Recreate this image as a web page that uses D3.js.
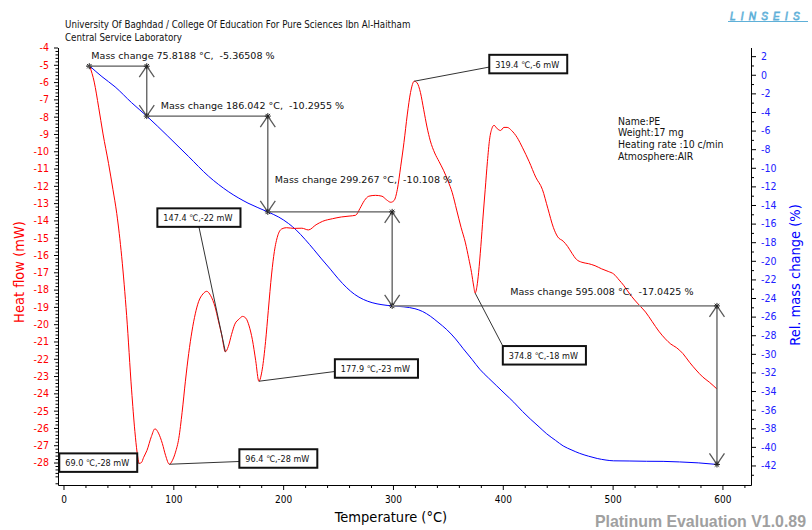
<!DOCTYPE html>
<html>
<head>
<meta charset="utf-8">
<script src="https://cdn.jsdelivr.net/npm/d3@7"></script>
<style>
  body { margin: 0; background: #fff; }
  svg { display: block; font-family: "DejaVu Sans Condensed", "DejaVu Sans", sans-serif; }
</style>
</head>
<body>
<svg id="chart" width="812" height="530"></svg>
<script>
// ---- Heat flow (DSC) curve: temperature in °C, signal in mW
const heatT = [24, 28, 32, 36, 41, 45, 48.5, 53, 57.5, 62, 65, 67, 69, 71, 73, 76, 80, 83.3, 86.5, 90, 93, 96.4,
  99, 102, 105, 108, 111, 114, 117, 120, 123, 127, 130.4, 134, 138, 141, 144, 147.4, 150, 153, 156, 160, 163, 166,
  169, 172, 175, 177.9, 181, 184, 186.5, 189.5, 192, 195, 198.5, 203, 210, 217, 223, 230, 236, 245, 253, 260, 266,
  270, 274, 278, 284, 290, 294, 298, 301, 304, 307, 310, 313, 316, 319.4, 322, 325, 328, 331, 334, 338, 342, 346,
  350, 354, 358, 362, 366, 369, 371.5, 373.5, 374.8, 376.5, 378, 380, 382, 384, 386, 388, 390, 392, 395, 398, 401,
  404, 408, 413, 418, 424, 430, 436, 441, 446, 450, 455, 459, 463, 467, 472, 478, 484, 490, 496, 501, 506, 510,
  515, 520, 525, 530, 536, 542, 548, 553, 558, 564, 570, 576, 582, 588, 595];
const heatMW = [-5.1, -6.0, -7.45, -9.0, -10.7, -12.2, -13.6, -16.1, -19.5, -23.8, -26.2, -27.4, -28.05, -28.0,
  -27.7, -27.3, -26.5, -26.05, -26.3, -26.9, -27.6, -28.1, -27.9, -27.4, -26.6, -25.1, -23.3, -21.7, -20.4, -19.4,
  -18.7, -18.25, -18.1, -18.35, -19.0, -19.8, -20.6, -21.6, -21.3, -20.6, -20.0, -19.7, -19.55, -19.65, -20.1,
  -20.9, -22.1, -23.3, -22.6, -21.0, -19.2, -17.1, -15.8, -14.9, -14.5, -14.42, -14.46, -14.45, -14.55, -14.25,
  -14.05, -13.9, -13.8, -13.75, -13.7, -13.3, -12.85, -12.6, -12.55, -12.6, -12.8, -12.95, -12.85, -12.2, -10.9,
  -9.5, -7.9, -6.6, -5.95, -6.05, -6.6, -7.6, -8.6, -9.4, -10.1, -10.6, -11.1, -11.7, -12.4, -13.4, -14.4, -15.3,
  -16.2, -17.0, -17.8, -18.2, -17.8, -17.0, -15.5, -13.8, -12.2, -10.6, -9.3, -8.7, -8.5, -8.7, -8.8, -8.62, -8.62,
  -8.8, -9.2, -9.8, -10.6, -11.5, -12.2, -13.3, -14.4, -14.95, -15.2, -15.5, -15.9, -16.25, -16.42, -16.5, -16.62,
  -16.8, -16.95, -17.1, -17.45, -17.75, -18.2, -18.6, -18.95, -19.3, -19.85, -20.4, -20.85, -21.15, -21.35, -21.7,
  -22.2, -22.65, -23.05, -23.35, -23.75];

// ---- Relative mass change (TG) curve: temperature in °C, mass in %
const massT = [24, 35, 47, 62, 75.8, 95, 114, 132, 150, 168, 186, 196, 205, 212, 220, 228, 235, 243, 250, 258, 265,
  273, 281, 290, 299.3, 310, 320, 327, 334, 341, 349, 357, 364, 372, 379, 387, 394.5, 402, 410, 418, 425, 433, 440,
  448, 455, 463, 470, 478, 486, 494, 501, 515, 531, 546, 561, 578, 595];
const massPct = [0.92, -0.2, -1.3, -3.0, -4.44, -6.6, -8.8, -10.9, -12.55, -13.8, -14.74, -15.3, -16.0, -16.7,
  -17.7, -18.8, -19.8, -20.9, -21.9, -22.9, -23.6, -24.15, -24.5, -24.72, -24.85, -24.95, -25.15, -25.45, -25.95,
  -26.6, -27.4, -28.4, -29.45, -30.6, -31.65, -32.6, -33.45, -34.3, -35.2, -36.2, -37.0, -37.85, -38.6, -39.3,
  -39.9, -40.35, -40.7, -41.0, -41.25, -41.42, -41.5, -41.52, -41.55, -41.56, -41.62, -41.72, -41.89];

// ---- Mass-change steps (evaluation markers)
const stepT = [23.5, 75.8188, 186.042, 299.267, 595.008];
const stepChange = [-5.36508, -10.2955, -10.108, -17.0425];
const massStart = 0.92;

// ---- Peak annotations on the heat flow curve
const peakT = [69.0, 96.4, 147.4, 177.9, 319.4, 374.8];
const peakMW = [-28.05, -28.1, -21.6, -23.3, -5.95, -18.2];

// ---- Tick values
const xTicks = [0, 100, 200, 300, 400, 500, 600];
const heatTicks = [-4, -5, -6, -7, -8, -9, -10, -11, -12, -13, -14, -15, -16, -17, -18, -19, -20, -21, -22, -23,
  -24, -25, -26, -27, -28];
const massTicks = [2, 0, -2, -4, -6, -8, -10, -12, -14, -16, -18, -20, -22, -24, -26, -28, -30, -32, -34, -36,
  -38, -40, -42];

// ---- Texts
const titleLines = ["University Of Baghdad / College Of Education For Pure Sciences Ibn Al-Haitham",
  "Central Service Laboratory"];
const infoLines = ["Name:PE", "Weight:17 mg", "Heating rate :10 c/min", "Atmosphere:AIR"];

// ---- Layout of annotation labels (pixel offsets)
const massLabelOffset = [[2, -7], [14, -7.6], [7, -29], [118, -11]];
// box top-left offset from the peak point, and where the leader meets the box
const peakBoxLayout = [
  { dx: -80, dy: -10, anchor: "right" },
  { dx: 70, dy: -15, anchor: "left" },
  { dx: -68, dy: -143.5, anchor: "bottom" },
  { dx: 76, dy: -22, anchor: "left" },
  { dx: 75, dy: -26.4, anchor: "left" },
  { dx: 27.7, dy: 53, anchor: "topleft" }
];

const svg = d3.select("#chart");

const x = d3.scaleLinear().domain([-5, 626]).range([58, 751]);
const yHeat = d3.scaleLinear().domain([-29.3, -4]).range([485, 47.5]);
const yMass = d3.scaleLinear().domain([-44.1, 2.93]).range([485, 47.5]);

const RED = "#ff0000", BLUE = "#0000ff";
const WIDE = '"DejaVu Sans", sans-serif';
const ARIAL = '"Liberation Sans", Arial, sans-serif';

// ---- Axes
function styleAxis(g, color, size) {
  g.attr("font-family", null);
  g.select(".domain").attr("stroke", "#000").attr("stroke-width", 1);
  g.selectAll(".tick line").attr("stroke", "#000");
  g.selectAll(".tick text").attr("fill", color).attr("font-size", size);
}

// bottom
const xMinor = d3.range(0, 621, 20).filter(v => v % 100 !== 0);
svg.append("g").attr("transform", "translate(0,485)")
  .call(d3.axisBottom(x).tickValues(xMinor).tickSize(3).tickSizeOuter(0).tickFormat(""))
  .call(g => g.select(".domain").remove())
  .selectAll("line").attr("stroke", "#000");
svg.append("g").attr("transform", "translate(0,485)")
  .call(d3.axisBottom(x).tickValues(xTicks).tickSize(5).tickSizeOuter(0).tickPadding(6).tickFormat(d => String(d)))
  .call(g => styleAxis(g, "#000", 10));

// left (heat flow)
const heatMinor = d3.range(-29.2, -4.0, 0.2).map(v => +v.toFixed(1)).filter(v => Math.abs(v - Math.round(v)) > 1e-6);
svg.append("g").attr("transform", "translate(58,0)")
  .call(d3.axisLeft(yHeat).tickValues(heatMinor).tickSize(2.5).tickSizeOuter(0).tickFormat(""))
  .call(g => g.select(".domain").remove())
  .selectAll("line").attr("stroke", "#000");
svg.append("g").attr("transform", "translate(58,0)")
  .call(d3.axisLeft(yHeat).tickValues(heatTicks).tickSize(4).tickSizeOuter(0).tickPadding(5).tickFormat(d => String(d)))
  .call(g => styleAxis(g, RED, 10.5));

// right (mass change)
const massMinor = d3.range(-44, 3, 1).filter(v => v % 2 !== 0);
svg.append("g").attr("transform", "translate(751,0)")
  .call(d3.axisRight(yMass).tickValues(massMinor).tickSize(3).tickSizeOuter(0).tickFormat(""))
  .call(g => g.select(".domain").remove())
  .selectAll("line").attr("stroke", "#000");
svg.append("g").attr("transform", "translate(751,0)")
  .call(d3.axisRight(yMass).tickValues(massTicks).tickSize(5).tickSizeOuter(0).tickPadding(5).tickFormat(d => String(d)))
  .call(g => styleAxis(g, "#2020ff", 10.5));

// axis titles
svg.append("text").attr("transform", "translate(24,272) rotate(-90)")
  .attr("text-anchor", "middle").attr("fill", RED).attr("font-size", 14.5).text("Heat flow (mW)");
svg.append("text").attr("transform", "translate(800,275) rotate(-90)")
  .attr("text-anchor", "middle").attr("fill", BLUE).attr("font-size", 14.5).text("Rel. mass change (%)");
svg.append("text").attr("x", 391).attr("y", 522)
  .attr("text-anchor", "middle").attr("fill", "#000").attr("font-size", 14.5).text("Temperature (°C)");

// ---- Curves
const heatData = heatT.map((t, i) => [t, heatMW[i]]);
const massData = massT.map((t, i) => [t, massPct[i]]);

svg.append("path").datum(massData)
  .attr("fill", "none").attr("stroke", BLUE).attr("stroke-width", 1)
  .attr("d", d3.line().x(d => x(d[0])).y(d => yMass(d[1])).curve(d3.curveMonotoneX));

svg.append("path").datum(heatData)
  .attr("fill", "none").attr("stroke", RED).attr("stroke-width", 1)
  .attr("d", d3.line().x(d => x(d[0])).y(d => yHeat(d[1])).curve(d3.curveMonotoneX));

// ---- Mass-change step markers
const levels = [massStart];
stepChange.forEach(c => levels.push(levels[levels.length - 1] + c));
const GREY = "#5a5a5a";
const mk = svg.append("g").attr("stroke", GREY).attr("stroke-width", 1.3).attr("fill", "none");

function star(px, py) {
  mk.append("path").attr("stroke", "#222").attr("stroke-width", 1)
    .attr("d", `M${px - 3},${py}H${px + 3}M${px},${py - 3}V${py + 3}M${px - 2.2},${py - 2.2}L${px + 2.2},${py + 2.2}M${px - 2.2},${py + 2.2}L${px + 2.2},${py - 2.2}`);
}

star(x(stepT[0]), yMass(levels[0]));
for (let i = 1; i < stepT.length; i++) {
  const x0 = x(stepT[i - 1]) - (i === 1 ? 3 : 0), x1 = x(stepT[i]);
  const yTop = yMass(levels[i - 1]), yBot = yMass(levels[i]);
  mk.append("line").attr("x1", x0).attr("x2", x1).attr("y1", yTop).attr("y2", yTop)
    .attr("stroke", i === 4 ? "#8a8a8a" : GREY).attr("stroke-width", i === 4 ? 1.8 : 1.3);
  mk.append("line").attr("x1", x1).attr("x2", x1).attr("y1", yTop).attr("y2", yBot);
  mk.append("path").attr("d", `M${x1 - 7.5},${yTop + 11}L${x1},${yTop}L${x1 + 7.5},${yTop + 11}`);
  mk.append("path").attr("d", `M${x1 - 7.5},${yBot - 11}L${x1},${yBot}L${x1 + 7.5},${yBot - 11}`);
  star(x1, yTop);
  star(x1, yBot);

  const [dx, dy] = massLabelOffset[i - 1];
  svg.append("text")
    .attr("x", x(stepT[i - 1]) + dx).attr("y", yTop + dy)
    .style("font-family", WIDE)
    .attr("font-size", 9.55).attr("fill", "#111").style("white-space", "pre")
    .text(`Mass change ${stepT[i]} °C,  ${stepChange[i - 1]} %`);
}

// ---- Peak annotation boxes
const ann = svg.append("g");
peakT.forEach((t, i) => {
  const px = x(t), py = yHeat(peakMW[i]);
  const L = peakBoxLayout[i];
  const bx = px + L.dx, by = py + L.dy;
  const g = ann.append("g");
  const txt = g.append("text").attr("x", bx + 6).attr("y", by + 13)
    .attr("font-size", 9).attr("fill", "#111")
    .text(`${t.toFixed(1)} ℃,${Math.round(peakMW[i])} mW`);
  const w = txt.node().getComputedTextLength() + 14, h = 18.5;
  let ax, ay;
  if (L.anchor === "right") { ax = bx + w; ay = by + h / 2; }
  else if (L.anchor === "left") { ax = bx; ay = by + h / 2 + 3; }
  else if (L.anchor === "bottom") { ax = bx + w / 2; ay = by + h; }
  else { ax = bx; ay = by; }
  g.insert("line", "text").attr("x1", px).attr("y1", py).attr("x2", ax).attr("y2", ay)
    .attr("stroke", "#333").attr("stroke-width", 1);
  g.insert("rect", "text").attr("x", bx).attr("y", by).attr("width", w).attr("height", h)
    .attr("fill", "#fff").attr("stroke", "#111").attr("stroke-width", 2);
});

// ---- Header, info block and footer
svg.selectAll(".title").data(titleLines).join("text")
  .attr("x", 65).attr("y", (d, i) => 28 + i * 12.5)
  .attr("font-size", 9.7).attr("fill", "#111").text(d => d);

svg.selectAll(".info").data(infoLines).join("text")
  .attr("x", 618).attr("y", (d, i) => 124.5 + i * 11.7)
  .attr("font-size", 10.4).attr("fill", "#111").text(d => d);

svg.append("text").attr("x", 806).attr("y", 527).attr("text-anchor", "end")
  .style("font-family", ARIAL).attr("font-weight", "bold")
  .attr("font-size", 15.9).attr("fill", "#a0a0a0").text("Platinum Evaluation V1.0.89");

const logo = svg.append("g");
logo.append("text").attr("x", 730).attr("y", 20)
  .style("font-family", ARIAL).attr("font-style", "italic")
  .attr("font-size", 10).attr("letter-spacing", 5.2).attr("fill", "none")
  .attr("stroke", "#5fb0d8").attr("stroke-width", 0.8).text("LINSEIS");
logo.append("line").attr("x1", 728).attr("x2", 808).attr("y1", 21.5).attr("y2", 21.5)
  .attr("stroke", "#5fb0d8").attr("stroke-width", 1);
</script>
</body>
</html>
